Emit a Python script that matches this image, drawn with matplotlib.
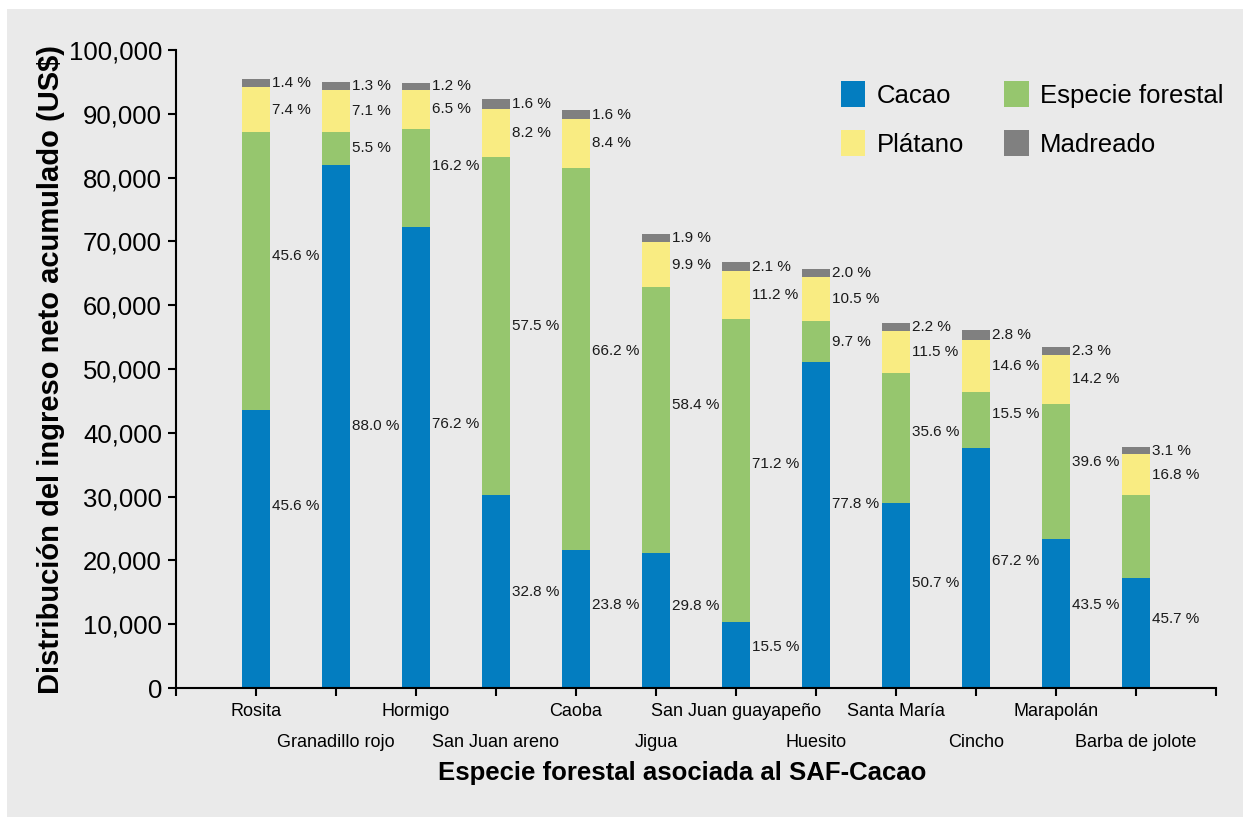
import matplotlib
matplotlib.use("Agg")
import matplotlib.pyplot as plt
from matplotlib.patches import Rectangle
from matplotlib.ticker import FuncFormatter
import numpy as np

plt.rcParams["font.family"] = ["Liberation Sans", "DejaVu Sans"]

# --- data -------------------------------------------------------------
categories = ["Rosita", "Granadillo rojo", "Hormigo", "San Juan areno", "Caoba",
              "Jigua", "San Juan guayapeño", "Huesito", "Santa María", "Cincho",
              "Marapolán", "Barba de jolote"]

# accumulated net income per system (US$)
totals = [95500, 95000, 94900, 92300, 90600, 71200, 66700, 65700, 57200, 56100, 53400, 37800]

# share of each component (%)
pct_cacao = [45.6, 88.0, 76.2, 32.8, 23.8, 29.8, 15.5, 77.8, 50.7, 67.2, 43.5, 45.7]
pct_forestal = [45.6, 5.5, 16.2, 57.5, 66.2, 58.4, 71.2, 9.7, 35.6, 15.5, 39.6, 34.4]
pct_platano = [7.4, 7.1, 6.5, 8.2, 8.4, 9.9, 11.2, 10.5, 11.5, 14.6, 14.2, 16.8]
pct_madreado = [1.4, 1.3, 1.2, 1.6, 1.6, 1.9, 2.1, 2.0, 2.2, 2.8, 2.3, 3.1]

series_names = ["Cacao", "Especie forestal", "Plátano", "Madreado"]
series_pct = [pct_cacao, pct_forestal, pct_platano, pct_madreado]
colors = ["#037DC0", "#96C66E", "#F9EC82", "#808080"]

# segments without a printed percentage
unlabeled = {(11, 1)}

# upward shift (points) of some percentage labels inside tall segments
label_lift = {(0, 0): 31, (0, 1): 11, (2, 0): 24, (2, 1): 9, (4, 0): 10, (4, 1): 6,
              (5, 0): 10, (5, 1): 11, (6, 0): 6, (6, 1): 5, (7, 0): 15,
              (8, 0): 9, (8, 1): 4, (9, 0): 5, (9, 1): 4, (10, 0): 6, (10, 1): 7,
              (11, 0): 10}

# --- figure -----------------------------------------------------------
W, H = 1243, 817
fig = plt.figure(figsize=(W / 100, H / 100), dpi=100, facecolor="white")
fig.patches.append(Rectangle((7 / W, 0), (W - 7) / W, (H - 9) / H,
                             transform=fig.transFigure, facecolor="#EAEAEA",
                             edgecolor="none", zorder=-10))

ax = fig.add_axes([176 / W, (H - 688) / H, (1216 - 176) / W, (688 - 50) / H])
ax.set_facecolor("none")

x = np.arange(len(categories))
tot = np.array(totals, dtype=float)
pcts = np.array(series_pct, dtype=float)
shares = pcts / pcts.sum(axis=0)
values = shares * tot

bar_w = 0.34
bottom = np.zeros(len(categories))
handles = []
for s, (name, col) in enumerate(zip(series_names, colors)):
    bars = ax.bar(x, values[s], bar_w, bottom=bottom, color=col, label=name,
                  linewidth=0, zorder=2)
    handles.append(bars)
    for i in range(len(categories)):
        if (i, s) in unlabeled:
            continue
        yc = bottom[i] + values[s][i] / 2
        ax.annotate(f"{pcts[s][i]:.1f} %", xy=(x[i] + bar_w / 2, yc),
                    xytext=(2, label_lift.get((i, s), 0)), textcoords="offset points",
                    ha="left", va="center", fontsize=11, color="#1a1a1a")
    bottom = bottom + values[s]

ax.set_xlim(-1, 12)
ax.set_ylim(0, 100000)

for side in ("top", "right"):
    ax.spines[side].set_visible(False)
for side in ("left", "bottom"):
    ax.spines[side].set_linewidth(1.5)
    ax.spines[side].set_color("black")

ax.set_yticks(np.arange(0, 100001, 10000))
ax.yaxis.set_major_formatter(FuncFormatter(lambda v, p: f"{int(v):,}"))
ax.tick_params(axis="y", direction="out", length=5.5, width=1.5, pad=4.5,
               labelsize=18.5, colors="black")

ax.set_xticks(np.arange(-1, 13))
ax.set_xticklabels([])
ax.tick_params(axis="x", direction="out", length=5.8, width=1.5)

# staggered category names
for i, name in enumerate(categories):
    off_px = -15 if i % 2 == 0 else -46
    ax.annotate(name, xy=(x[i], 0), xycoords=("data", "axes fraction"),
                xytext=(0, off_px * 0.72), textcoords="offset points",
                ha="center", va="top", fontsize=13, color="black")

fig.text(682 / W, 1 - 773 / H, "Especie forestal asociada al SAF-Cacao",
         ha="center", va="center", fontsize=18.5, fontweight="bold")
fig.text(51 / W, 1 - 369 / H, "Distribución del ingreso neto acumulado (US$)",
         ha="center", va="center", rotation=90, fontsize=21, fontweight="bold")

# two-column legend, filled column by column
order = [0, 2, 1, 3]
ax.legend(handles=[handles[k] for k in order],
          labels=[series_names[k] for k in order], ncol=2, frameon=False,
          loc="upper left", bbox_to_anchor=(841 / W, 1 - 81 / H),
          bbox_transform=fig.transFigure, fontsize=18.5, borderpad=0,
          borderaxespad=0, handlelength=0.95, handleheight=1.2,
          handletextpad=0.45, columnspacing=1.55, labelspacing=0.85)

fig.savefig("out.png", dpi=100, facecolor=fig.get_facecolor())
